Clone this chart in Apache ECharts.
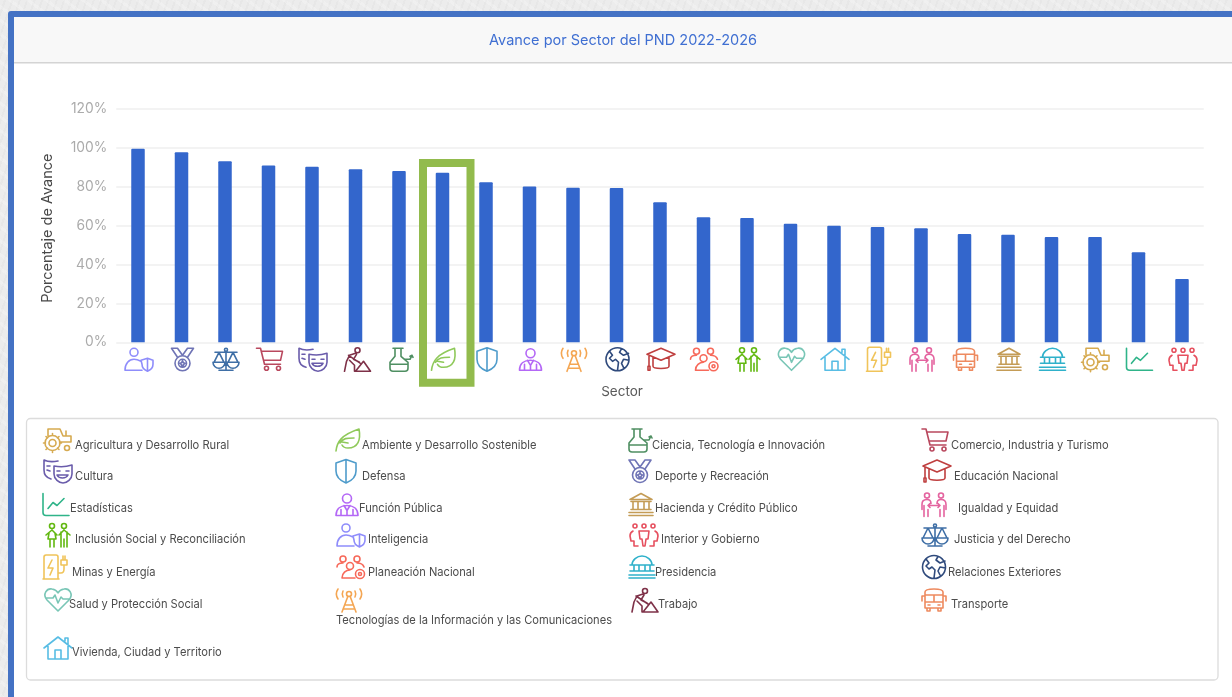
<!DOCTYPE html>
<html lang="es">
<head>
<meta charset="utf-8">
<title>Avance por Sector del PND 2022-2026</title>
<script src="https://cdn.jsdelivr.net/npm/echarts@6/dist/echarts.min.js"></script>
<style>
html,body{margin:0;padding:0;width:1232px;height:697px;overflow:hidden}
body{background-color:#ececec;background-image:repeating-linear-gradient(37deg,rgba(255,255,255,.2) 0 3px,transparent 3px 11px),repeating-linear-gradient(-71deg,rgba(190,190,190,.1) 0 2px,transparent 2px 7px)}
#chart{width:1232px;height:697px;filter:blur(0.45px)}
</style>
</head>
<body>
<div id="chart"></div>
<script>
// ---- data ----
const chartTitle = 'Avance por Sector del PND 2022-2026';
const sectors = ['Inteligencia','Deporte y Recreación','Justicia y del Derecho','Comercio, Industria y Turismo','Cultura','Trabajo','Ciencia, Tecnología e Innovación','Ambiente y Desarrollo Sostenible','Defensa','Función Pública','Tecnologías de la Información y las Comunicaciones','Relaciones Exteriores','Educación Nacional','Planeación Nacional','Inclusión Social y Reconciliación','Salud y Protección Social','Vivienda, Ciudad y Territorio','Minas y Energía','Igualdad y Equidad','Transporte','Hacienda y Crédito Público','Presidencia','Agricultura y Desarrollo Rural','Estadísticas','Interior y Gobierno'];
const avance = [99.6,97.8,93.1,91,90.3,89,88.1,87.2,82.3,80.2,79.5,79.4,72,64.3,63.9,61,60,59.3,58.6,55.7,55.3,54.2,54.1,46.3,32.5];
const yTicks = [0,20,40,60,80,100,120];
const highlighted = 'Ambiente y Desarrollo Sostenible';

const iconColors = {
  'Inteligencia':'#8f8dfb','Deporte y Recreación':'#6f74b5','Justicia y del Derecho':'#3f6fa6','Comercio, Industria y Turismo':'#b9485e','Cultura':'#6a5cab','Trabajo':'#7e3148','Ciencia, Tecnología e Innovación':'#4f8f62','Ambiente y Desarrollo Sostenible':'#8fc95a','Defensa':'#4f9ccb','Función Pública':'#b468f6','Tecnologías de la Información y las Comunicaciones':'#f4a653','Relaciones Exteriores':'#2f4a7c','Educación Nacional':'#bf3f3f','Planeación Nacional':'#f7695a','Inclusión Social y Reconciliación':'#62b811','Salud y Protección Social':'#79c6b6','Vivienda, Ciudad y Territorio':'#58bde4','Minas y Energía':'#f0c45a','Igualdad y Equidad':'#e4639f','Transporte':'#ee8a5f','Hacienda y Crédito Público':'#c49c56','Presidencia':'#2fb1ca','Agricultura y Desarrollo Rural':'#d6aa50','Estadísticas':'#2fb489','Interior y Gobierno':'#e6505f'
};

// legend in reading order
const legendRows = [
  ['Agricultura y Desarrollo Rural','Ambiente y Desarrollo Sostenible','Ciencia, Tecnología e Innovación','Comercio, Industria y Turismo'],
  ['Cultura','Defensa','Deporte y Recreación','Educación Nacional'],
  ['Estadísticas','Función Pública','Hacienda y Crédito Público','Igualdad y Equidad'],
  ['Inclusión Social y Reconciliación','Inteligencia','Interior y Gobierno','Justicia y del Derecho'],
  ['Minas y Energía','Planeación Nacional','Presidencia','Relaciones Exteriores'],
  ['Salud y Protección Social','Tecnologías de la Información y las Comunicaciones','Trabajo','Transporte'],
  ['Vivienda, Ciudad y Territorio']
];

// ---- icon drawings, in a 30 x 24 box ----
const ring = (cx,cy,r) => `M${cx-r} ${cy}A${r} ${r} 0 1 1 ${cx+r} ${cy}A${r} ${r} 0 1 1 ${cx-r} ${cy}Z`;
const icons = {
  'Inteligencia': ring(10,5,4)+'M1 23C1 16 5 12 10 12C13 12 15 13 17 14M1 23H18M17 13L23.5 11L29 13V17C29 21 26 23 23.5 24C21 23 18 21 18 17ZM23.5 11V24',
  'Deporte y Recreación': 'M4 1H10L15 8L20 1H26L20 10M4 1L10 10'+ring(15,16,7.5)+ring(15,16,4)+'M15 13.5L16 15.5L17.5 16L16 17.5V19L15 18L14 19V17.5L12.5 16L14 15.5Z',
  'Justicia y del Derecho': ring(15,2.5,1.5)+'M15 4V22M8 23H22M4 5H26M8 5L3 15H13ZM2 15A6 6 0 0 0 14 15ZM22 5L17 15H27ZM16 15A6 6 0 0 0 28 15Z',
  'Comercio, Industria y Turismo': 'M2 1H6L10 17H26M7 4H28L26 13H9'+ring(12,21,2)+ring(24,21,2),
  'Cultura': 'M15 2C10 3 5 3 1 1V11C1 16 4 19 8 20M11 7C16 8 23 8 29 6V15C29 20 24 24 20 24C16 24 11 20 11 15ZM14 12H17M23 12H26M14 16C16 20 23 20 25 16ZM4 7H7M4 11L7 12',
  'Trabajo': ring(16,3,2.5)+'M14 6L8 8L5 14L3 24M8 13L13 18V24M15 7L12 12L18 15M7 8L19 16M14 24L22 14L29 24Z',
  'Ciencia, Tecnología e Innovación': 'M8 1H18M10 1V9L5 15V21C5 23 6 24 8 24H20C22 24 23 23 23 21V15L16 9V1M5 17H23M20 12L25 12L27 8M25 9L27 8L28 10',
  'Ambiente y Desarrollo Sostenible': 'M3 23C4 14 8 7 26 1C28 12 25 20 15 20C12 20 10 19 9 17M7 15C10 10 14 10 21 10M9 14L15 15',
  'Defensa': 'M15 0.5L25 4V12C25 18 20 22 15 24C10 22 5 18 5 12V4ZM15 0.5V24',
  'Función Pública': ring(15,6,4.5)+'M4 23C4 16 9 13 15 13C21 13 26 16 26 23ZM12 13L15 18L18 13M15 18V23M9 17V23M21 17V23',
  'Tecnologías de la Información y las Comunicaciones': ring(15,6,2.5)+'M14 8L8 24M16 8L22 24M11 17H19M9.5 21H20.5M9 3C8 5 8 7 9 9M21 3C22 5 22 7 21 9M4 1C2 4 2 8 4 11M26 1C28 4 28 8 26 11',
  'Relaciones Exteriores': ring(15,12,11.5)+'M7 4L10 8L7 11L10 14L13 12L16 15L15 23M19 1.5L17 5L21 8L26 6M26.5 13L21 12L19 16L21 20',
  'Educación Nacional': 'M1 7L15 1L29 7L15 13ZM7 10V19C7 22 23 22 23 19V10M3 8V19M2 19H4V23H2Z',
  'Planeación Nacional': ring(7,4,3)+ring(21,4,3)+ring(14,11,3.5)+ring(24,19,4.5)+ring(24,19,1.5)+'M1 12C1 9 4 8 7 8M21 8C24 8 27 9 28 12M6 23C6 18 10 15 14 15M6 23H19',
  'Inclusión Social y Reconciliación': ring(9,3,2.5)+ring(21,3,2.5)+'M9 7L3 12M9 7L14 12M6 10L5 16H13L12 10M7 16V24M11 16V24M21 7L16 12M21 7L27 12M18 9V24M24 9V24M21 16V24',
  'Salud y Protección Social': 'M15 23L4 12C-1 6 4 0 9 1C12 1.5 14 3 15 5C16 3 18 1.5 21 1C26 0 31 6 26 12ZM3 10H10L12 7L15 15L18 9L20 11H27',
  'Vivienda, Ciudad y Territorio': 'M1 12L15 1L29 12M5 10V23H25V10M12 23V14H18V23M22 5V2H25V8',
  'Minas y Energía': 'M3 24H19M4 24V2C4 1 5 0 6 0H16C17 0 18 1 18 2V24M12 5L8 13H13L10 20M18 18H21C23 18 24 16 24 14V10M21 10H27V5H21ZM23 5V1M25 5V1',
  'Igualdad y Equidad': ring(8,3,2.5)+ring(22,3,2.5)+'M8 7C4 7 3 9 3 12V17M5 24V13M9 24V17M8 7C11 7 12 9 12 11M22 7C26 7 27 9 27 12V17M25 24V13M21 24V17M22 7C19 7 18 9 18 11M9 13H21M11 11L9 13L11 15M19 11L21 13L19 15',
  'Transporte': 'M6 4C6 2 9 1 15 1C21 1 24 2 24 4V20H6ZM6 7H24M6 14H24M15 7V14M8 20V23H11V20M19 20V23H22V20M9 17H11M19 17H21M6 8H3V13M24 8H27V13',
  'Hacienda y Crédito Público': 'M15 1L26 7H4ZM5 9H25M7 9V17M12 9V17M18 9V17M23 9V17M5 17H25M3 20H27M3 23H27',
  'Presidencia': 'M5 10C5 5 10 1 15 1C20 1 25 5 25 10ZM3 10H27M7 10V16M12 10V16M18 10V16M23 10V16M3 16H27M2 20H28M2 23H28',
  'Agricultura y Desarrollo Rural': ring(9.5,15,7.5)+ring(9.5,15,3.5)+'M9.5 5.5V7.5M9.5 22.5V24.5M0.5 15H2.5M16.5 15H18.5M3 8.5L4.5 10M14.5 20L16 21.5M3 21.5L4.5 20M14.5 10L16 8.5M5 8V1H17L20 8H28V14H17M23 8V3'+ring(24,20,2.5),
  'Estadísticas': 'M2 1V20C2 22 3 23 5 23H28M7 16L12 10L16 13L23 6',
  'Interior y Gobierno': ring(6,3,2)+ring(15,3,2)+ring(24,3,2)+'M10 8H20L19 16H17L16 23H14L13 16H11ZM4 8C2 9 1 11 1 13L2 18H5V23H9M26 8C28 9 29 11 29 13L28 18H25V23H21'
};
const iconStroke = 1.6;
const iconEl = (name) => ({
  type:'path',
  shape:{pathData:icons[name]},
  style:{stroke:iconColors[name],fill:'none',lineWidth:iconStroke,lineJoin:'round',lineCap:'round'}
});

// ---- page layout ----
const FONT = 'Inter, "Open Sans", sans-serif';
const legendFont = '11.6px ' + FONT;
const legendSquash = 0.96;
const legendColX = [43,336,629,922];
const legendRowY = [428,459,492.5,523,555,588,636];
const legendTextY = [445.5,476.5,508.5,539.5,572.5,604.5,652.5];
const labelStartX = {
  'Agricultura y Desarrollo Rural':75,'Ambiente y Desarrollo Sostenible':362,'Ciencia, Tecnología e Innovación':652,'Comercio, Industria y Turismo':951,
  'Cultura':75,'Defensa':362,'Deporte y Recreación':655,'Educación Nacional':954,
  'Estadísticas':70,'Función Pública':359,'Hacienda y Crédito Público':655,'Igualdad y Equidad':958,
  'Inclusión Social y Reconciliación':75,'Inteligencia':368,'Interior y Gobierno':661,'Justicia y del Derecho':954,
  'Minas y Energía':72,'Planeación Nacional':368,'Presidencia':655,'Relaciones Exteriores':948,
  'Salud y Protección Social':69,'Tecnologías de la Información y las Comunicaciones':336,'Trabajo':658,'Transporte':951,
  'Vivienda, Ciudad y Territorio':72
};
// blank space at the left of a drawing: legend icons start flush with their column
const iconLeadIn = {
  'Deporte y Recreación':4,'Justicia y del Derecho':2,'Comercio, Industria y Turismo':2,'Ciencia, Tecnología e Innovación':5,'Ambiente y Desarrollo Sostenible':3,'Defensa':5,'Función Pública':4,'Tecnologías de la Información y las Comunicaciones':2,'Minas y Energía':3,'Igualdad y Equidad':3,'Transporte':3,'Hacienda y Crédito Público':3,'Presidencia':2,'Relaciones Exteriores':3,'Estadísticas':2
};
const legendItems = [];
legendRows.forEach((row, r) => row.forEach((name, c) => legendItems.push([r, c, name])));

const frameGraphics = [
  {type:'rect', shape:{x:8,y:11,width:1230,height:700,r:3}, style:{fill:'#4472c4'}, z:-9, silent:true},
  {type:'rect', shape:{x:14,y:17,width:1220,height:690}, style:{fill:'#ffffff'}, z:-8, silent:true},
  {type:'rect', shape:{x:14,y:17,width:1220,height:45}, style:{fill:'#f8f8f8'}, z:-7, silent:true},
  {type:'rect', shape:{x:14,y:62,width:1220,height:1.4}, style:{fill:'#d4d4d4'}, z:-6, silent:true},
  {type:'rect', shape:{x:26.5,y:418.5,width:1191.5,height:261.5,r:4}, style:{fill:'#ffffff',stroke:'#dcdcdc',lineWidth:1.3}, z:-5, silent:true}
];

const chart = echarts.init(document.getElementById('chart'), null, {renderer:'canvas'});
chart.setOption({
  animation:false,
  backgroundColor:'transparent',
  title:{
    text:chartTitle, left:618, top:28.5, textAlign:'center',
    textStyle:{color:'#3f6fd2',fontSize:14.5,fontWeight:'normal',fontFamily:FONT}
  },
  grid:{left:116.25,right:28.25,top:109,height:233.3},
  xAxis:{
    type:'category', data:sectors, name:'Sector', nameLocation:'middle', nameGap:43,
    nameTextStyle:{color:'#5a5a5a',fontSize:13.5,fontFamily:FONT,padding:[0,76,0,0]},
    axisLine:{show:false}, axisTick:{show:false}, axisLabel:{show:false}
  },
  yAxis:{
    type:'value', min:yTicks[0], max:yTicks[yTicks.length-1], interval:yTicks[1]-yTicks[0],
    name:'Porcentaje de Avance', nameLocation:'middle', nameGap:61, nameRotate:90,
    nameTextStyle:{color:'#484848',fontSize:14.5,fontFamily:FONT,padding:[0,5,0,0]},
    axisLine:{show:false}, axisTick:{show:false},
    axisLabel:{formatter:'{value}%',color:'#ababab',fontSize:13.8,margin:9,fontFamily:FONT},
    splitLine:{lineStyle:{color:'#f3f3f3',width:2}}
  },
  series:[
    {type:'bar', data:avance, barWidth:13.5, itemStyle:{color:'#3366cc',borderRadius:[1,1,0,0]}, silent:true, z:2},
    {
      type:'custom', data:sectors.map((_,i)=>[i,0]), clip:false, silent:true, z:4,
      encode:{x:0,y:1},
      renderItem:(params, api) => {
        const i = api.value(0);
        const p = api.coord([i,0]);
        const name = sectors[i];
        const children = [{type:'group', x:p[0]-14, y:p[1]+5, children:[iconEl(name)]}];
        if (name === highlighted) {
          children.push({type:'rect',
            shape:{x:p[0]-19.5,y:p[1]-179.3,width:47.5,height:219.7},
            style:{fill:'none',stroke:'#92bb4d',lineWidth:8}});
        }
        return {type:'group', children};
      }
    },
    {
      type:'custom', coordinateSystem:'none', data:legendItems.map((_,i)=>i), silent:true, z:4,
      renderItem:(params) => {
        const [r,c,name] = legendItems[params.dataIndex];
        const isTIC = name.startsWith('Tecnolog');
        return {type:'group', children:[
          {type:'group', x:legendColX[c]-(iconLeadIn[name]||0), y:legendRowY[r], children:[iconEl(name)]},
          {type:'text', x:labelStartX[name], y:isTIC ? 620.5 : legendTextY[r], scaleX:legendSquash,
           style:{text:name, font:legendFont, fill:'#4c4c4c', textAlign:'left', textVerticalAlign:'middle'}}
        ]};
      }
    }
  ],
  graphic:{elements:frameGraphics}
});
</script>
</body>
</html>
